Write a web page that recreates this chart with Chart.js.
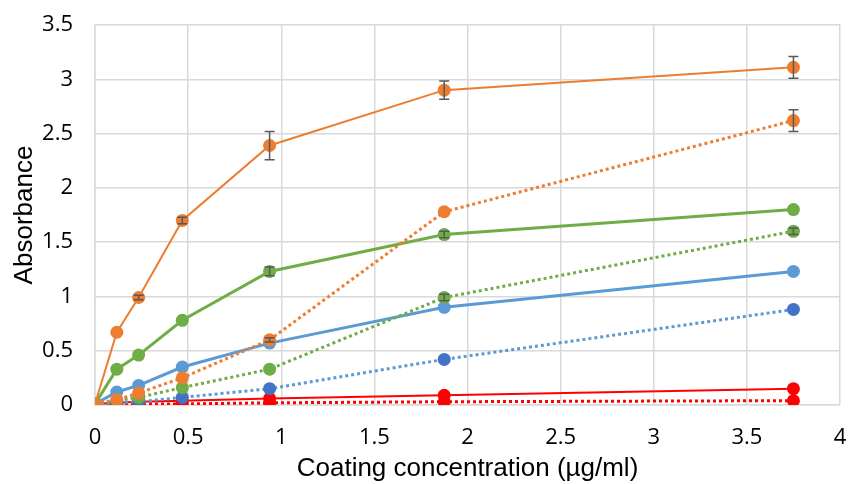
<!DOCTYPE html>
<html>
<head>
<meta charset="utf-8">
<script src="https://cdn.jsdelivr.net/npm/chart.js@4"></script>
<style>
  html, body { margin: 0; padding: 0; background: #fff; }
  #wrap { width: 850px; height: 484px; }
</style>
</head>
<body>
<div id="wrap"><canvas id="c" width="850" height="484"></canvas></div>
<script>
// Coating concentrations (µg/ml), two-fold dilution series
const concentrations = [0, 0.1171875, 0.234375, 0.46875, 0.9375, 1.875, 3.75];

// Absorbance readings per series
const orangeSolid  = [0.01, 0.67, 0.99, 1.70, 2.39, 2.90, 3.11];
const orangeDotted = [0.01, 0.05, 0.11, 0.25, 0.60, 1.78, 2.62];
const greenSolid   = [0.01, 0.33, 0.46, 0.78, 1.23, 1.57, 1.80];
const greenDotted  = [0.01, 0.04, 0.07, 0.16, 0.33, 0.99, 1.60];
const blueSolid    = [0.01, 0.12, 0.18, 0.35, 0.57, 0.90, 1.23];
const blueDotted   = [0.01, 0.02, 0.03, 0.07, 0.15, 0.42, 0.88];
const redSolid     = [0.01, 0.02, 0.03, 0.04, 0.06, 0.09, 0.15];
const redDotted    = [0.01, 0.01, 0.01, 0.01, 0.02, 0.03, 0.04];

// Standard deviations (error bars)
const orangeSolidErr  = [0, 0, 0.02, 0.03, 0.13, 0.085, 0.10];
const orangeDottedErr = [0, 0, 0, 0, 0.02, 0, 0.10];
const greenSolidErr   = [0, 0, 0, 0, 0.04, 0.03, 0];
const greenDottedErr  = [0, 0, 0, 0, 0, 0.03, 0.03];

// Axis ticks
const xTicks = [0, 0.5, 1, 1.5, 2, 2.5, 3, 3.5, 4];
const yTicks = [0, 0.5, 1, 1.5, 2, 2.5, 3, 3.5];

const toPoints = (ys) => concentrations.map((x, i) => ({ x: x, y: ys[i] }));

function series(values, errors, line, marker, width, dotted) {
  return {
    data: toPoints(values),
    errors: errors || null,
    borderColor: line,
    backgroundColor: marker,
    pointBackgroundColor: marker,
    pointBorderColor: marker,
    pointRadius: 6.5,
    pointHoverRadius: 6.5,
    pointBorderWidth: 0,
    borderWidth: width,
    borderDash: dotted ? [3, 3] : [],
    tension: 0,
    fill: false
  };
}

// Error bars drawn through the chart's own scales
const errorBars = {
  id: 'errorBars',
  afterDatasetsDraw(chart) {
    const ctx = chart.ctx;
    const xs = chart.scales.x, ys = chart.scales.y;
    ctx.save();
    ctx.strokeStyle = '#595959';
    ctx.lineWidth = 1.5;
    chart.data.datasets.forEach(ds => {
      if (!ds.errors) return;
      ds.data.forEach((p, i) => {
        const e = ds.errors[i];
        if (!e) return;
        const px = xs.getPixelForValue(p.x);
        const top = ys.getPixelForValue(p.y + e);
        const bot = ys.getPixelForValue(p.y - e);
        ctx.beginPath();
        ctx.moveTo(px, top); ctx.lineTo(px, bot);
        ctx.moveTo(px - 5, top); ctx.lineTo(px + 5, top);
        ctx.moveTo(px - 5, bot); ctx.lineTo(px + 5, bot);
        ctx.stroke();
      });
    });
    ctx.restore();
  }
};

const ORANGE = '#ED7D31', GREEN = '#70AD47', BLUE = '#5B9BD5', DBLUE = '#4472C4', RED = '#FF0000';

new Chart(document.getElementById('c'), {
  type: 'line',
  data: {
    datasets: [
      series(orangeSolid, orangeSolidErr, ORANGE, ORANGE, 2, false),
      series(orangeDotted, orangeDottedErr, ORANGE, ORANGE, 3, true),
      series(greenSolid, greenSolidErr, GREEN, GREEN, 3, false),
      series(greenDotted, greenDottedErr, GREEN, GREEN, 3, true),
      series(blueSolid, null, BLUE, BLUE, 3, false),
      series(blueDotted, null, BLUE, DBLUE, 3, true),
      series(redSolid, null, RED, RED, 2, false),
      series(redDotted, null, RED, RED, 3, true)
    ]
  },
  options: {
    responsive: false,
    animation: false,
    events: [],
    layout: { padding: { top: 25, right: 10, left: 0, bottom: 0 } },
    plugins: { legend: { display: false }, tooltip: { enabled: false } },
    scales: {
      x: {
        type: 'linear',
        min: 0, max: 4,
        afterBuildTicks: s => { s.ticks = xTicks.map(v => ({ value: v })); },
        afterFit: s => { s.height = 79; s.paddingLeft = 0; s.paddingRight = 0; },
        grid: { color: '#d9d9d9', lineWidth: 1.5, drawTicks: false },
        border: { color: '#d9d9d9', width: 1.5 },
        ticks: {
          padding: 20,
          color: '#000',
          font: { family: 'Open Sans', size: 22 },
          maxRotation: 0,
          callback: v => String(v)
        },
        title: {
          display: true,
          text: 'Coating concentration (µg/ml)',
          color: '#000',
          font: { family: 'Liberation Sans', size: 26 },
          padding: { top: 2, bottom: 0 }
        }
      },
      y: {
        type: 'linear',
        min: 0, max: 3.5,
        afterBuildTicks: s => { s.ticks = yTicks.map(v => ({ value: v })); },
        afterFit: s => { s.width = 95; s.paddingTop = 0; s.paddingBottom = 0; },
        grid: { color: '#d9d9d9', lineWidth: 1.5, drawTicks: false },
        border: { color: '#d9d9d9', width: 1.5 },
        ticks: {
          padding: 22,
          color: '#000',
          font: { family: 'Open Sans', size: 22 },
          callback: v => String(v)
        },
        title: {
          display: true,
          text: 'Absorbance',
          color: '#000',
          font: { family: 'Liberation Sans', size: 26 },
          padding: { top: 9, bottom: 0 }
        }
      }
    }
  },
  plugins: [errorBars]
});
</script>
</body>
</html>
